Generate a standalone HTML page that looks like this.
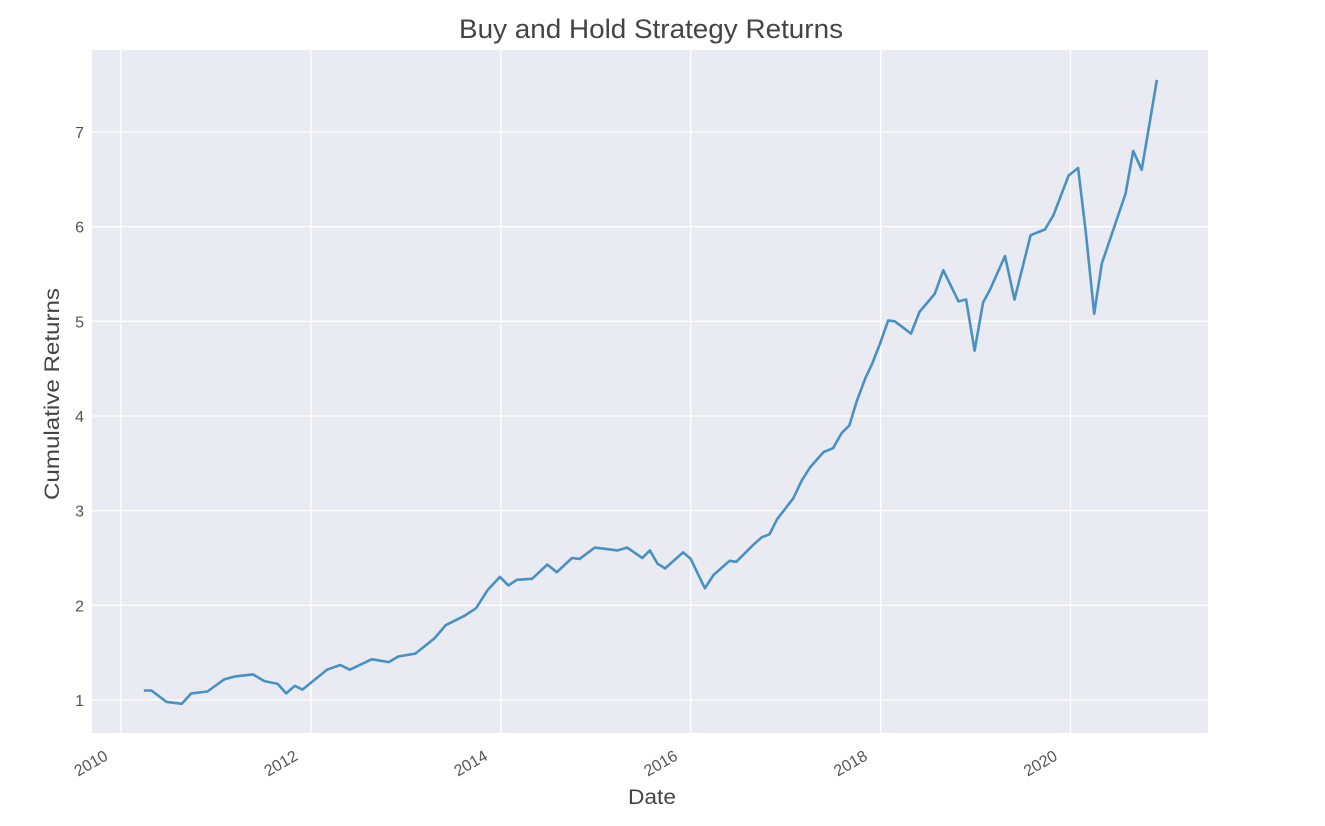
<!DOCTYPE html>
<html><head><meta charset="utf-8"><style>
body{margin:0;background:#fff;width:1325px;height:821px;overflow:hidden;font-family:"Liberation Sans",sans-serif}
</style></head><body>
<svg id="chart" width="1325" height="821" xmlns="http://www.w3.org/2000/svg" font-family="Liberation Sans, sans-serif">
<rect x="92" y="50" width="1116" height="683" fill="#eaeaf2"/>
<g id="grid"></g><g id="ticks"></g>
<text x="459" y="38" textLength="384" lengthAdjust="spacingAndGlyphs" font-size="27" fill="#444">Buy and Hold Strategy Returns</text>
<text transform="translate(59,500) rotate(-90)" textLength="212" lengthAdjust="spacingAndGlyphs" font-size="21" fill="#444">Cumulative Returns</text>
<text x="628" y="804" textLength="48" lengthAdjust="spacingAndGlyphs" font-size="21" fill="#444">Date</text>
<path id="line" fill="none" stroke="#4a90c0" stroke-width="2.6" stroke-linejoin="round"/>
</svg>
<script>
const dates=[2010.24,2010.32,2010.48,2010.64,2010.74,2010.91,2011.09,2011.21,2011.39,2011.51,2011.65,2011.74,2011.83,2011.91,2012.17,2012.31,2012.41,2012.64,2012.82,2012.92,2013.10,2013.30,2013.42,2013.62,2013.74,2013.86,2013.99,2014.08,2014.17,2014.33,2014.49,2014.59,2014.75,2014.83,2014.99,2015.23,2015.33,2015.49,2015.57,2015.65,2015.73,2015.92,2016.00,2016.15,2016.24,2016.41,2016.48,2016.66,2016.75,2016.83,2016.91,2017.08,2017.17,2017.26,2017.40,2017.50,2017.59,2017.67,2017.75,2017.84,2017.91,2018.00,2018.08,2018.15,2018.32,2018.41,2018.57,2018.66,2018.82,2018.90,2018.99,2019.08,2019.15,2019.31,2019.41,2019.58,2019.73,2019.82,2019.98,2020.08,2020.16,2020.25,2020.33,2020.58,2020.66,2020.75,2020.91];
const returns=[1.10,1.10,0.98,0.96,1.07,1.09,1.22,1.25,1.27,1.20,1.17,1.07,1.15,1.11,1.32,1.37,1.32,1.43,1.40,1.46,1.49,1.65,1.79,1.89,1.97,2.16,2.30,2.21,2.27,2.28,2.43,2.35,2.50,2.49,2.61,2.58,2.61,2.50,2.58,2.44,2.39,2.56,2.49,2.18,2.32,2.47,2.46,2.64,2.72,2.75,2.91,3.13,3.32,3.46,3.62,3.66,3.82,3.90,4.16,4.40,4.55,4.78,5.01,5.00,4.87,5.10,5.29,5.54,5.21,5.23,4.69,5.20,5.33,5.69,5.23,5.91,5.97,6.12,6.54,6.62,5.95,5.08,5.61,6.35,6.80,6.60,7.55];
const xTicks=[2010,2012,2014,2016,2018,2020];
const yTicks=[1,2,3,4,5,6,7];
const NS="http://www.w3.org/2000/svg";
function xs(v){return 121+(v-2010)*94.95;}
function ys(v){return 700-(v-1)*94.67;}
const grid=document.getElementById('grid'),ticks=document.getElementById('ticks');
yTicks.forEach(t=>{
 const l=document.createElementNS(NS,'line');
 
 
 l.setAttribute('x1',92);l.setAttribute('x2',1208);l.setAttribute('y1',ys(t));l.setAttribute('y2',ys(t));
 l.setAttribute('stroke','#fff');l.setAttribute('stroke-width','1.3');grid.appendChild(l);
 const tx=document.createElementNS(NS,'text');
 
 
 tx.setAttribute('x',84);tx.setAttribute('y',ys(t)+6);tx.setAttribute('text-anchor','end');
 tx.setAttribute('font-size','16');tx.setAttribute('fill','#555');tx.textContent=t;ticks.appendChild(tx);
});
xTicks.forEach(t=>{
 const l=document.createElementNS(NS,'line');
 
 
 l.setAttribute('x1',xs(t));l.setAttribute('x2',xs(t));l.setAttribute('y1',50);l.setAttribute('y2',733);
 l.setAttribute('stroke','#fff');l.setAttribute('stroke-width','1.3');grid.appendChild(l);
 const tx=document.createElementNS(NS,'text');
 
 
 const px=xs(t)-12,py=759;
 tx.setAttribute('transform','translate('+px+','+py+') rotate(-30)');
 tx.setAttribute('text-anchor','end');tx.setAttribute('font-size','16');tx.setAttribute('fill','#555');
 tx.textContent=t;ticks.appendChild(tx);
});
document.getElementById('line').setAttribute('d',dates.map((d,i)=>(i?'L':'M')+xs(d).toFixed(1)+','+ys(returns[i]).toFixed(1)).join(''));
</script>
</body></html>
